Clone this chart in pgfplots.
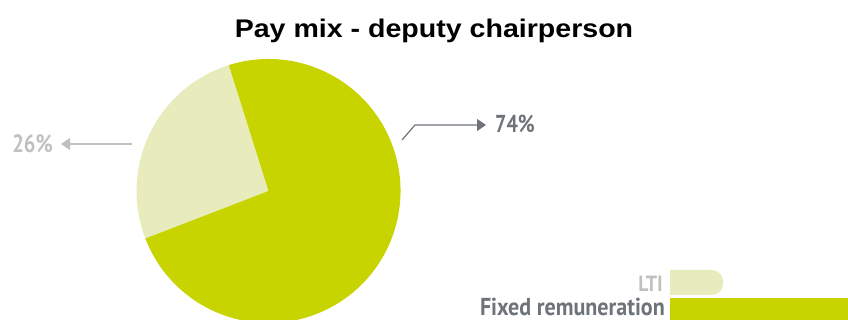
\documentclass[border=0pt]{standalone}
\usepackage{fontspec}
\setmainfont{Liberation Sans}
\newfontfamily\titlefont[FakeStretch=1.12]{Liberation Sans}
\newfontfamily\cond[FakeStretch=0.82]{PT Sans}
\newfontfamily\condl[FakeStretch=0.9]{PT Sans}
\usepackage{pgfplots}
\usepackage{pgfplotstable}
\pgfplotsset{compat=1.18}
\usetikzlibrary{arrows.meta}
\definecolor{fixedc}{RGB}{200,212,0}
\definecolor{ltic}{RGB}{232,236,189}
\definecolor{darkg}{RGB}{110,115,121}
\definecolor{lightg}{RGB}{192,192,192}

\pgfplotstableread{
label value
LTI 26
Fixed 74
}\piedata
\pgfplotstablegetelem{0}{value}\of\piedata
\let\vLTI\pgfplotsretval
\pgfplotstablegetelem{1}{value}\of\piedata
\let\vFix\pgfplotsretval
\pgfmathsetmacro\aStart{107.5}
\pgfmathsetmacro\aMid{\aStart+3.6*\vLTI}
\pgfmathsetmacro\aEnd{\aMid+3.6*\vFix}

\begin{document}
\begin{tikzpicture}
\begin{axis}[x=1pt, y=1pt, xmin=0, xmax=848, ymin=0, ymax=320,
  hide axis, clip=true]
\path (axis cs:0,0) rectangle (axis cs:848,320);
% pie
\fill[ltic] (axis cs:268.5,129) -- ++(\aStart:132pt) arc[start angle=\aStart, end angle=\aMid, radius=132pt] -- cycle;
\fill[fixedc] (axis cs:268.5,129) -- ++(\aMid:132pt) arc[start angle=\aMid, end angle=\aEnd, radius=132pt] -- cycle;
% title
\node[anchor=base, inner sep=0pt] at (axis cs:434,282.7) {\titlefont\fontsize{25.5}{28}\selectfont\bfseries Pay mix - deputy chairperson};
% 26% annotation
\draw[lightg, line width=1.4pt, -{Triangle[length=9pt,width=12pt]}] (axis cs:132,176) -- (axis cs:61,176);
\node[anchor=base east, inner sep=0pt, text=lightg] at (axis cs:53,167) {\cond\fontsize{25}{26}\selectfont\bfseries 26\%};
% 74% annotation
\draw[darkg, line width=1.2pt, -{Triangle[length=9pt,width=12pt]}] (axis cs:402,180) -- (axis cs:415,195) -- (axis cs:486,195);
\node[anchor=base west, inner sep=0pt, text=darkg] at (axis cs:495,187.7) {\cond\fontsize{24.5}{26}\selectfont\bfseries 74\%};
% legend
\fill[ltic, rounded corners=11pt] (axis cs:640,25) rectangle (axis cs:723,50);
\fill[ltic] (axis cs:670,25) rectangle (axis cs:700,50);
\fill[white] (axis cs:640,24) rectangle (axis cs:670,51);
\fill[fixedc] (axis cs:670,0) rectangle (axis cs:848,21.7);
\node[anchor=base east, inner sep=0pt, text=lightg] at (axis cs:663,28) {\condl\fontsize{22}{24}\selectfont\bfseries LTI};
\node[anchor=base east, inner sep=0pt, text=darkg] at (axis cs:665,4) {\condl\fontsize{24.5}{26}\selectfont\bfseries Fixed remuneration};
\end{axis}
\end{tikzpicture}
\end{document}
